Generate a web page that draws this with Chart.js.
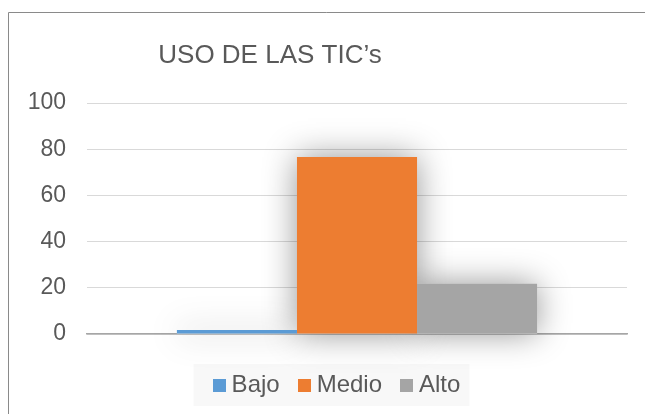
<!DOCTYPE html>
<html>
<head>
<meta charset="utf-8">
<script src="https://cdn.jsdelivr.net/npm/chart.js@4"></script>
<style>
    body { margin: 0; background: #fff; }
    #wrap { width: 645px; height: 414px; }
</style>
</head>
<body>
<div id="wrap"><canvas id="myChart" width="645" height="414"></canvas></div>
<script>
const chartTitle = "USO DE LAS TIC\u2019s";
const categories = [""];
const seriesNames = ["Bajo", "Medio", "Alto"];
const seriesValues = [[1.7], [76.6], [21.7]];
const seriesColors = ["#5b9bd5", "#ed7d31", "#a5a5a5"];
const yTicks = [0, 20, 40, 60, 80, 100];

const textColor = "#595959";
const fontFamily = "Liberation Sans, Arial, sans-serif";

// small square used as legend marker (keeps the text close to the square)
function makeSwatch(color) {
    const c = document.createElement("canvas");
    c.width = 13;
    c.height = 13;
    const g = c.getContext("2d");
    g.fillStyle = color;
    g.fillRect(0, 0, 13, 13);
    return c;
}

// frame line, grey box behind the legend, and the title (sits left of centre in the original)
const framePlugin = {
    id: "frame",
    afterLayout(chart) {
        chart.legend.left += 12;
        chart.legend.right += 12;
    },
    beforeDraw(chart) {
        const ctx = chart.ctx;
        ctx.save();
        ctx.fillStyle = "#ffffff";
        ctx.fillRect(0, 0, chart.width, chart.height);
        ctx.strokeStyle = "#8a8a8a";
        ctx.lineWidth = 1;
        ctx.beginPath();
        ctx.moveTo(8.5, chart.height);
        ctx.lineTo(8.5, 12.5);
        ctx.lineTo(chart.width, 12.5);
        ctx.stroke();
        const items = chart.legend.legendHitBoxes;
        if (items && items.length) {
            const first = items[0];
            const last = items[items.length - 1];
            const cy = first.top + first.height / 2;
            const x0 = first.left - 25;
            const x1 = last.left + last.width + 9;
            ctx.fillStyle = "#f8f8f8";
            ctx.fillRect(x0, cy - 21, x1 - x0, 42);
        }
        ctx.fillStyle = textColor;
        ctx.font = "26px " + fontFamily;
        ctx.textAlign = "center";
        ctx.textBaseline = "alphabetic";
        ctx.fillText(chartTitle, 270, 63);
        ctx.restore();
    },
};

// soft glow under the bars, drawn before the bars themselves
const shadowPlugin = {
    id: "barShadow",
    beforeDatasetsDraw(chart) {
        const ctx = chart.ctx;
        ctx.save();
        ctx.shadowColor = "rgba(0, 0, 0, 0.42)";
        ctx.shadowBlur = 32;
        ctx.fillStyle = "#ffffff";
        chart.data.datasets.forEach((ds, i) => {
            chart.getDatasetMeta(i).data.forEach((bar) => {
                const w = bar.width;
                ctx.fillRect(bar.x - w / 2, bar.y, w, bar.base - bar.y);
            });
        });
        ctx.restore();
    },
};

const data = {
    labels: categories,
    datasets: seriesNames.map((name, i) => ({
        label: name,
        data: seriesValues[i],
        backgroundColor: seriesColors[i],
        borderWidth: 0,
    })),
};

const config = {
    type: "bar",
    data: data,
    options: {
        responsive: false,
        animation: false,
        layout: { padding: { left: 28, right: 18, top: 103, bottom: 7 } },
        datasets: {
            bar: { barPercentage: 1, categoryPercentage: 0.667 },
        },
        plugins: {
            title: { display: false },
            legend: {
                position: "bottom",
                labels: {
                    color: textColor,
                    font: { family: fontFamily, size: 24 },
                    usePointStyle: true,
                    pointStyleWidth: 1,
                    boxHeight: 13,
                    padding: 24,
                    generateLabels(chart) {
                        const base = Chart.defaults.plugins.legend.labels.generateLabels(chart);
                        return base.map((item, i) => {
                            item.pointStyle = makeSwatch(seriesColors[i]);
                            return item;
                        });
                    },
                },
            },
            tooltip: { enabled: false },
        },
        scales: {
            x: {
                grid: { display: false },
                ticks: { display: false },
                border: { color: "#a6a6a6", width: 1.5 },
                afterFit(scale) {
                    scale.height = 15;
                },
            },
            y: {
                min: 0,
                max: 100,
                afterBuildTicks(scale) {
                    scale.ticks = yTicks.map((v) => ({ value: v }));
                },
                afterFit(scale) {
                    scale.width = 59;
                },
                grid: { color: "#d9d9d9", drawTicks: false },
                border: { display: false },
                ticks: {
                    color: textColor,
                    font: { family: fontFamily, size: 23 },
                    padding: 21,
                },
            },
        },
    },
    plugins: [framePlugin, shadowPlugin],
};

document.addEventListener("DOMContentLoaded", function () {
    const ctx = document.getElementById("myChart").getContext("2d");
    const myChart = new Chart(ctx, config);
});
</script>
</body>
</html>
